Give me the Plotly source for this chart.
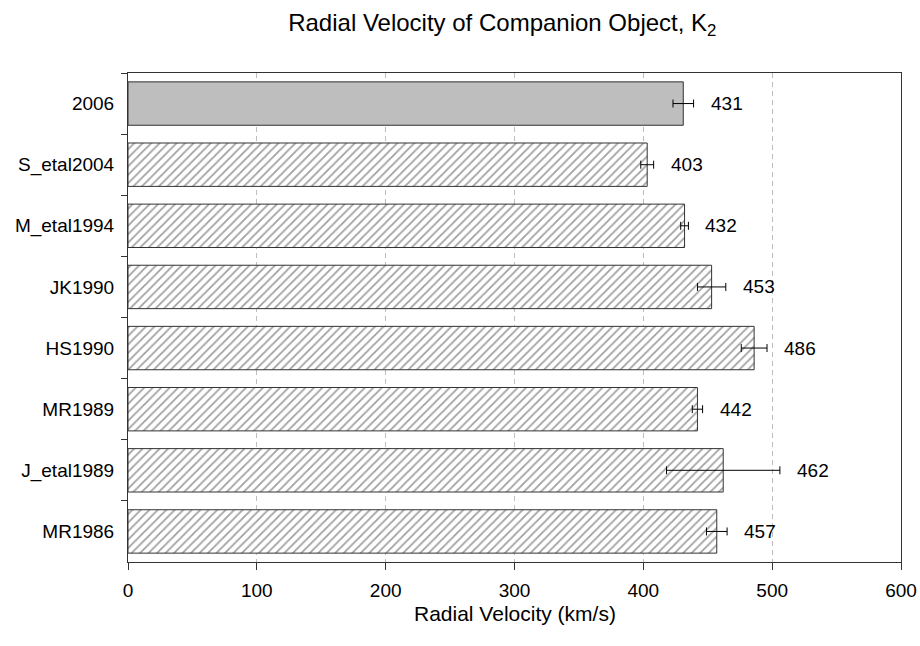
import plotly.graph_objects as go

# Radial velocity of the companion object from each study (km/s)
studies = ["2006", "S_etal2004", "M_etal1994", "JK1990", "HS1990",
           "MR1989", "J_etal1989", "MR1986"]
velocity = [431, 403, 432, 453, 486, 442, 462, 457]
velocity_err = [8, 5, 3, 11, 10, 4, 44, 8]
x_ticks = [0, 100, 200, 300, 400, 500, 600]

FONT = "Liberation Sans, Arial, sans-serif"
AXIS_COLOR = "#333333"

fill_colors = ["#bebebe"] + ["white"] * (len(studies) - 1)
hatch_shapes = [""] + ["/"] * (len(studies) - 1)

fig = go.Figure()
fig.add_trace(go.Bar(
    x=velocity,
    y=studies,
    orientation="h",
    width=0.71,
    marker=dict(
        color=fill_colors,
        line=dict(color=AXIS_COLOR, width=1),
        pattern=dict(shape=hatch_shapes, fgcolor="#a6a6a6", bgcolor="white",
                     size=6, solidity=0.3),
    ),
    error_x=dict(type="data", array=velocity_err, visible=True,
                 color="black", thickness=1, width=4),
    showlegend=False,
    hoverinfo="x+y",
))

# value labels to the right of each error bar (y given as category index)
for i, (v, e) in enumerate(zip(velocity, velocity_err)):
    fig.add_annotation(
        x=v + e, y=i, text=str(v), showarrow=False,
        xanchor="left", yanchor="middle", xshift=15,
        font=dict(family=FONT, size=19, color="black"),
    )

# x-axis title, set below the tick labels
fig.add_annotation(
    x=0.5, y=0, xref="paper", yref="paper",
    text="Radial Velocity (km/s)", showarrow=False,
    xanchor="center", yanchor="middle", yshift=-51,
    font=dict(family=FONT, size=21, color="black"),
)

fig.update_layout(
    width=920, height=646,
    margin=dict(l=128, r=19, t=73, b=84),
    paper_bgcolor="white",
    plot_bgcolor="white",
    font=dict(family=FONT, size=19, color="black"),
    title=dict(
        text="Radial Velocity of Companion Object, K<sub>2</sub>",
        x=0.546, xref="container", xanchor="center",
        y=0.965, yanchor="middle",
        font=dict(family=FONT, size=24, color="black"),
    ),
    xaxis=dict(
        range=[0, 600],
        tickvals=x_ticks,
        ticktext=[str(t) for t in x_ticks],
        ticks="outside", ticklen=7, tickcolor=AXIS_COLOR,
        ticklabelstandoff=4,
        showline=True, linecolor=AXIS_COLOR, linewidth=1, mirror=True,
        showgrid=True, gridcolor="#bebebe", gridwidth=1, griddash="5px,4px",
        zeroline=False, automargin=False,
        tickfont=dict(family=FONT, size=19),
    ),
    yaxis=dict(
        type="category",
        categoryorder="array", categoryarray=studies,
        range=[len(studies) - 0.5, -0.5],
        tickson="boundaries",
        ticks="outside", ticklen=6, tickcolor=AXIS_COLOR,
        ticklabelstandoff=9,
        showline=True, linecolor=AXIS_COLOR, linewidth=1, mirror=True,
        showgrid=False, zeroline=False, automargin=False,
        tickfont=dict(family=FONT, size=19),
    ),
)

fig.write_html("out.html")
